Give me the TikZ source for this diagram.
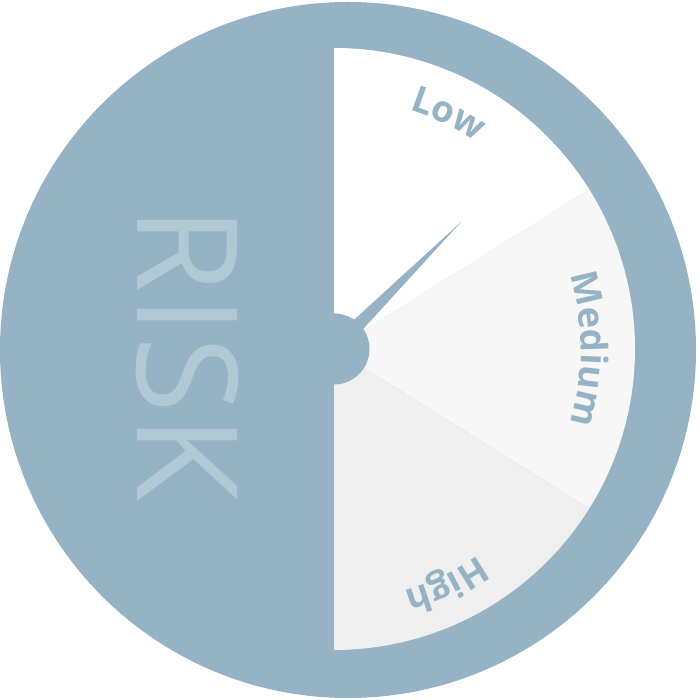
\documentclass[tikz,border=0pt]{standalone}
\usepackage{fontspec}
\setmainfont{Open Sans}
\usetikzlibrary{decorations.text,calc}
\definecolor{riskblue}{HTML}{95B3C4}
\definecolor{risktext}{HTML}{B0C7D4}
\definecolor{medgray}{HTML}{F7F7F7}
\definecolor{highgray}{HTML}{EFEFEF}
\newcommand\lblfont{\fontsize{36.5}{42}\selectfont\bfseries}
\tikzset{
  sector/.style={draw=none},
  arclabel/.style={decorate, decoration={text along path, text align=center, text color=riskblue, text={|\lblfont|#1}}}
}
\begin{document}
\begin{tikzpicture}[x=1pt,y=1pt]
\useasboundingbox (0,0) rectangle (700,700);
\coordinate (o) at (348,350);
\coordinate (c) at (334,351);
\fill[riskblue] (o) circle[radius=348pt];
\fill[sector,white] (c) -- ++(90:301pt) arc[start angle=90,end angle=32,radius=301pt] -- cycle;
\fill[sector,medgray] (c) -- ++(32:301pt) arc[start angle=32,end angle=-32,radius=301pt] -- cycle;
\fill[sector,highgray] (c) -- ++(-32:301pt) arc[start angle=-32,end angle=-90,radius=301pt] -- cycle;
% needle
\coordinate (tip) at ($(c)+(45:180pt)$);
\fill[riskblue] ($(c)+(135:8pt)$) -- (tip) -- ($(c)+(-45:8pt)$) -- cycle;
\node[circle, fill=riskblue, minimum size=71pt, inner sep=0pt] (hub) at (c) {};
% labels
\coordinate (lowstart) at ($(c)+(95:251pt)$);
\coordinate (medstart) at ($(c)+(40:247pt)$);
\coordinate (highstart) at ($(c)+(-33.5:252pt)$);
\path[arclabel=Low] (lowstart) arc[start angle=95,end angle=33,radius=251pt];
\path[arclabel=Medium] (medstart) arc[start angle=40,end angle=-40,radius=247pt];
\path[arclabel=High] (highstart) arc[start angle=-33.5,end angle=-95.5,radius=252pt];
\node[rotate=-90, anchor=base, inner sep=0pt, text=risktext, font=\fontsize{140}{150}\selectfont] (risk) at (137,346) {R\kern2ptI\kern2ptS\kern2ptK};
\end{tikzpicture}
\end{document}
